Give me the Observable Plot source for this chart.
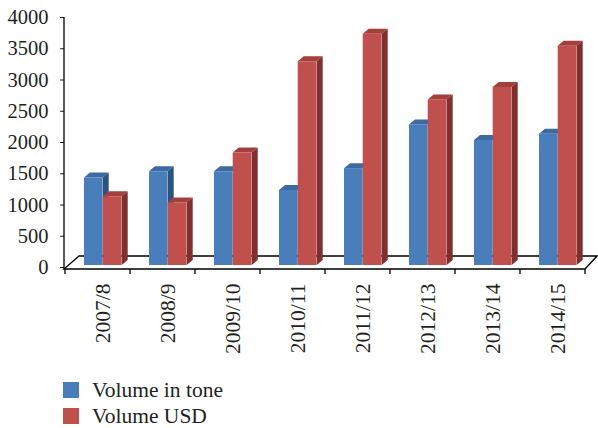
<!DOCTYPE html>
<html>
<head>
<meta charset="utf-8">
<script src="https://cdn.jsdelivr.net/npm/d3@7"></script>
<script src="https://cdn.jsdelivr.net/npm/@observablehq/plot@0.6"></script>
<style>
  html, body { margin: 0; padding: 0; background: #fff; overflow: hidden; }
  #wrap { position: relative; width: 598px; height: 428px; font-family: "Liberation Serif", serif; color: #231f20; }
  .leg { position: absolute; left: 63px; height: 20px; line-height: 20px; display: flex; align-items: center; font-size: 21.5px; white-space: nowrap; }
  .sw { width: 16px; height: 16px; margin-right: 13px; flex: none; }
</style>
</head>
<body>
<div id="wrap"></div>
<script>
const categories = ["2007/8", "2008/9", "2009/10", "2010/11", "2011/12", "2012/13", "2013/14", "2014/15"];
const volumeTone = [1400, 1500, 1500, 1200, 1550, 2250, 2000, 2100];
const volumeUSD = [1100, 1000, 1800, 3260, 3700, 2650, 2850, 3510];
const yTicks = [0, 500, 1000, 1500, 2000, 2500, 3000, 3500, 4000];
const seriesNames = ["Volume in tone", "Volume USD"];

const colors = {
  tone: { front: "#4a7ebb", top: "#3c6aa2", side: "#2c5282" },
  usd: { front: "#c0504d", top: "#a3403d", side: "#7f2f2d" }
};

const toneData = categories.map((c, i) => ({ cat: c, value: volumeTone[i] }));
const usdData = categories.map((c, i) => ({ cat: c, value: volumeUSD[i] }));

const W = 598, H = 372;
const mL = 64, mR = 12, mT = 15, mB = 107;
const bandW = (W - mL - mR) / categories.length;
const toneL = 19, toneR = 37.7, usdL = 37.7, usdR = 56.7;
const depthX = 6, depthY = -5;

const chart = Plot.plot({
  width: W,
  height: H,
  marginLeft: mL,
  marginRight: mR,
  marginTop: mT,
  marginBottom: mB,
  style: { fontFamily: "Liberation Serif, serif", fontSize: "20.5px", color: "#231f20", background: "#fff" },
  x: { domain: categories, padding: 0, label: null },
  y: { domain: [0, 4000], label: null },
  marks: [
    Plot.axisY({ ticks: yTicks, tickSize: 4, tickPadding: 12, dy: 2, tickFormat: d => String(d), label: null }),
    Plot.axisX({ tickSize: 0, tickPadding: 18, tickRotate: -90, dx: 5, fontSize: 21.5, label: null }),
    Plot.barY(toneData, { x: "cat", y: "value", fill: colors.tone.front, insetLeft: toneL, insetRight: bandW - toneR }),
    Plot.barY(usdData, { x: "cat", y: "value", fill: colors.usd.front, insetLeft: usdL, insetRight: bandW - usdR })
  ]
});

document.getElementById("wrap").appendChild(chart);

const sx = chart.scale("x"), sy = chart.scale("y");
const xs = sx.apply ? (v) => sx.apply(v) : d3.scaleBand(sx.domain, sx.range);
const ys = sy.apply ? (v) => sy.apply(v) : d3.scaleLinear(sy.domain, sy.range);
const bw = sx.bandwidth;

const firstBar = chart.querySelector('g[aria-label="bar"]');
const faces = d3.create("svg:g").attr("aria-label", "3d-faces");
chart.insertBefore(faces.node(), firstBar);

const y0 = ys(0);
const floorFront = y0 + 4, floorBack = y0 - 9, floorDx = 14;
const xStart = xs(categories[0]), xEnd = xs(categories[categories.length - 1]) + bw;

const floor = faces.append("g").attr("stroke", "#000").attr("stroke-width", 1.3).attr("fill", "none");
floor.append("path").attr("d", `M${xStart - 1},${floorFront}L${xEnd},${floorFront}L${xEnd + floorDx - 2},${floorBack}L${xStart + floorDx},${floorBack}Z`);
categories.concat([null]).forEach((c) => {
  const x = c === null ? xEnd : xs(c);
  floor.append("line").attr("x1", x).attr("x2", x).attr("y1", floorFront).attr("y2", floorFront + 5);
});
floor.append("line").attr("x1", xStart - 1).attr("x2", xStart - 1).attr("y1", ys(4000) + 2).attr("y2", floorFront);

function drawFaces(data, l, r, col) {
  data.forEach(d => {
    const b = xs(d.cat);
    const x0 = b + l, x1 = b + r, yt = ys(d.value);
    faces.append("path").attr("fill", col.top)
      .attr("d", `M${x0},${yt}L${x1},${yt}L${x1 + depthX},${yt + depthY}L${x0 + depthX},${yt + depthY}Z`);
    faces.append("path").attr("fill", col.side)
      .attr("d", `M${x1},${yt}L${x1 + depthX},${yt + depthY}L${x1 + depthX},${y0 + depthY}L${x1},${y0}Z`);
  });
}
drawFaces(toneData, toneL, toneR, colors.tone);
drawFaces(usdData, usdL, usdR, colors.usd);

const wrap = document.getElementById("wrap");
[[seriesNames[0], colors.tone.front, 380], [seriesNames[1], colors.usd.front, 406]].forEach(([name, c, top]) => {
  const row = document.createElement("div");
  row.className = "leg";
  row.style.top = top + "px";
  const sw = document.createElement("div");
  sw.className = "sw";
  sw.style.background = c;
  const t = document.createElement("span");
  t.textContent = name;
  row.appendChild(sw);
  row.appendChild(t);
  wrap.appendChild(row);
});
</script>
</body>
</html>
